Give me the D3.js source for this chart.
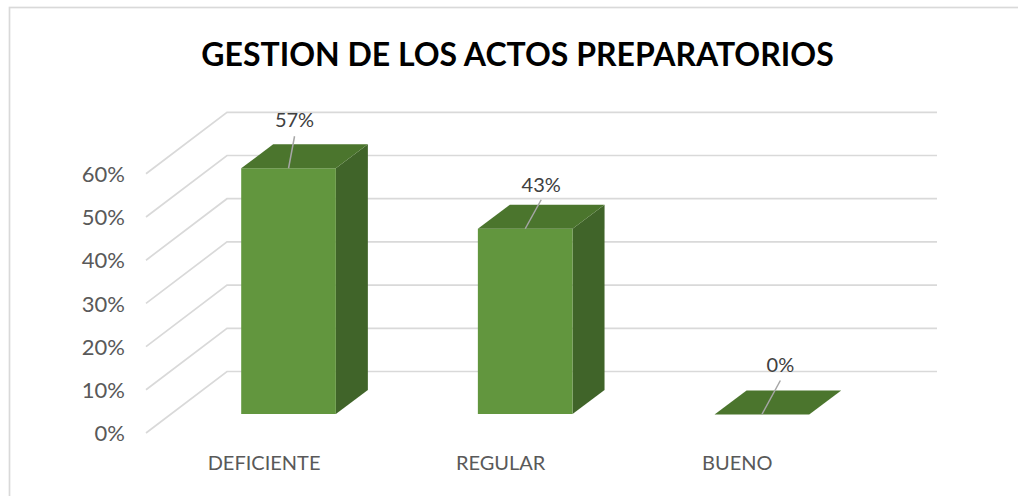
<!DOCTYPE html>
<html><head><meta charset="utf-8">
<script src="https://cdn.jsdelivr.net/npm/d3@7/dist/d3.min.js"></script>
<style>html,body{margin:0;padding:0;background:#fff}svg{display:block}text{font-family:Lato,"Open Sans",sans-serif}</style>
</head><body><svg id="c" width="1018" height="496"></svg>
<script>
const titleText = "GESTION DE LOS ACTOS PREPARATORIOS";
const categories = ["DEFICIENTE","REGULAR","BUENO"];
const values = [0.57,0.43,0];
const valueLabels = ["57%","43%","0%"];
const tickValues = [0,0.1,0.2,0.3,0.4,0.5,0.6];

const svg = d3.select("#c");
svg.append("rect").attr("x",9.5).attr("y",7.5).attr("width",1060).attr("height",520)
  .attr("fill","#fff").attr("stroke","#d9d9d9").attr("stroke-width",1.7);

const y = d3.scaleLinear().domain([0,0.6]).range([414,154.8]);
const x = d3.scaleBand().domain(categories).range([170.5,880.5]).paddingInner(0.6).paddingOuter(0.3);
const wall = {dx:81, dy:-61.5}, depth = {dx:32, dy:-24};
const xLeft = 146, xRight = 937, yFloor = 433;
const yWall = d3.scaleLinear().domain([0,0.6]).range([yFloor,yFloor-259.2]);

const grid = svg.append("g").attr("fill","none").attr("stroke","#d9d9d9").attr("stroke-width",1.7);
tickValues.forEach(t=>{
  const p=d3.path();
  p.moveTo(xLeft,yWall(t));
  p.lineTo(xLeft+wall.dx,yWall(t)+wall.dy);
  p.lineTo(xRight,yWall(t)+wall.dy);
  grid.append("path").attr("d",p.toString());
});

const axis = d3.axisLeft(yWall).tickValues(tickValues).tickFormat(d3.format(".0%")).tickSize(0).tickPadding(0);
const ag = svg.append("g").attr("transform","translate(125,1)").call(axis);
ag.select(".domain").remove();
ag.selectAll("text").attr("font-size",22).attr("fill","#595959").attr("dy","0.3em");

function poly(pts,fill){svg.append("polygon").attr("points",pts.map(p=>p.join(",")).join(" ")).attr("fill",fill);}
categories.forEach((c,i)=>{
  const l=x(c)-0.3, r=l+x.bandwidth(), t=y(values[i])+0.5, b=y(0);
  if(values[i]>0){
    poly([[r,t],[r+depth.dx,t+depth.dy],[r+depth.dx,b+depth.dy],[r,b]],"#406429");
    poly([[l,t],[r,t],[r,b],[l,b]],"#62963e");
  }
  poly([[l,t],[l+depth.dx,t+depth.dy],[r+depth.dx,t+depth.dy],[r,t]],"#4b752d");
  svg.append("line").attr("x1",(l+r)/2).attr("y1",t).attr("x2",(l+r)/2+[6,16,18.5][i]).attr("y2",t-[32,29,34][i])
    .attr("stroke","#a6a6a6").attr("stroke-width",1.5);
  svg.append("text").attr("x",(l+r)/2+[6,16,18.5][i]).attr("y",t-[41,37,43][i]).attr("text-anchor","middle")
    .attr("font-size",20).attr("fill","#404040").text(valueLabels[i]);
  svg.append("text").attr("x",(l+r)/2-24.5).attr("y",470).attr("text-anchor","middle")
    .attr("font-size",20).attr("fill","#595959").text(c);
});
svg.append("text").attr("x",517.5).attr("y",65.5).attr("text-anchor","middle")
  .attr("font-size",32).attr("font-weight",700).attr("fill","#000").text(titleText);
</script></body></html>
